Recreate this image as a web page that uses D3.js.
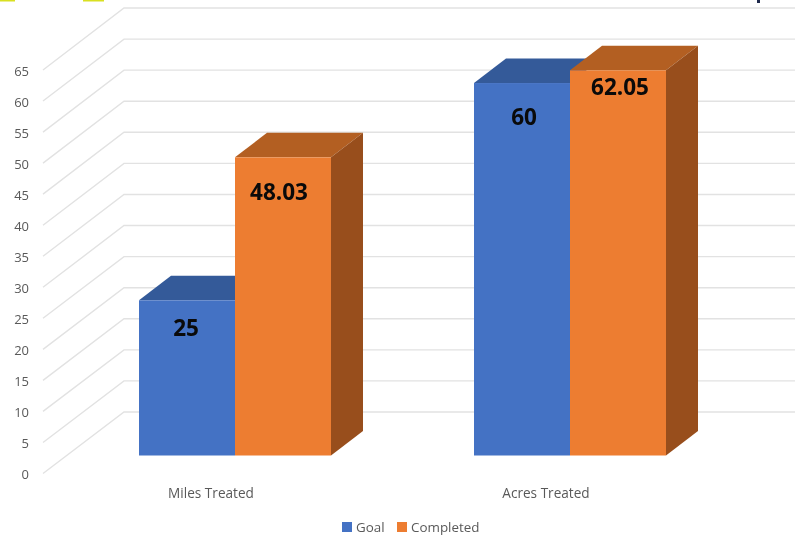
<!DOCTYPE html>
<html>
<head>
<meta charset="utf-8">
<style>
  html, body { margin: 0; padding: 0; background: #fff; }
  /* the source is a soft screenshot */
  svg { display: block; filter: blur(0.4px); }
  text { font-family: "Open Sans", sans-serif; }
</style>
<script src="https://cdn.jsdelivr.net/npm/d3@7"></script>
</head>
<body>
<svg id="chart" width="801" height="536"></svg>
<script>
var categories = ['Miles Treated', 'Acres Treated']
var seriesNames = ['Goal', 'Completed']
var goalValues = [25, 60]
var completedValues = [48.03, 62.05]
var tickValues = d3.range(0, 70, 5)

var seriesColors = {
  Goal: { front: '#4472c4', top: '#345a99' },
  Completed: { front: '#ed7d31', top: '#b35f22', side: '#984e1c' }
}

// depth of the 3D box, and of the bars inside it
var wallLeft = 43
var wallDx = 81
var wallRight = 795
var barDx = 32
var barDy = 24.5

var svg = d3.select('#chart')

var yFront = d3.scaleLinear().domain([0, 65]).range([473.5, 70])
var yBack = d3.scaleLinear().domain([0, 65]).range([412, 8])
var yBar = d3.scaleLinear().domain([0, 65]).range([455.5, 52])

var x0 = d3.scaleBand().domain(categories).range([139, 666]).paddingInner(143 / 335)
var x1 = d3.scaleBand().domain(seriesNames).range([0, x0.bandwidth()])

// clipped bits of the slide this chart was cut out of
svg.append('rect').attr('x', 0).attr('y', 0).attr('width', 15).attr('height', 1.5).attr('fill', '#d9e021')
svg.append('rect').attr('x', 83).attr('y', 0).attr('width', 21).attr('height', 1.5).attr('fill', '#d9e021')
svg.append('rect').attr('x', 757).attr('y', 0).attr('width', 3).attr('height', 3).attr('fill', '#1f2a4d')

// grid on the wall and side wall
svg.append('g').selectAll('path')
  .data(tickValues)
  .join('path')
  .attr('fill', 'none')
  .attr('stroke', '#e2e2e2')
  .attr('stroke-width', 1.4)
  .attr('d', function (d) {
    return 'M' + wallLeft + ',' + yFront(d) + 'L' + (wallLeft + wallDx) + ',' + yBack(d) + 'L' + wallRight + ',' + yBack(d)
  })

// y axis labels
var yAxis = d3.axisLeft(yFront).tickValues(tickValues).tickSize(0).tickPadding(0)
var yAxisG = svg.append('g').attr('transform', 'translate(29,1)').call(yAxis)
yAxisG.select('.domain').remove()
yAxisG.selectAll('text')
  .attr('fill', '#595959')
  .style('font-size', '13px')
  .style('font-family', '"Open Sans", sans-serif')

// bars
var barData = []
categories.forEach(function (cat, i) {
  barData.push({ category: cat, series: 'Goal', value: goalValues[i] })
  barData.push({ category: cat, series: 'Completed', value: completedValues[i] })
})

var bars = svg.append('g').selectAll('g')
  .data(barData)
  .join('g')

bars.each(function (d) {
  var g = d3.select(this)
  var colors = seriesColors[d.series]
  var left = x0(d.category) + x1(d.series)
  var right = left + x1.bandwidth()
  var top = yBar(d.value)
  var bottom = yBar(0)

  g.append('path')
    .attr('fill', colors.top)
    .attr('d', 'M' + left + ',' + top + 'L' + (left + barDx) + ',' + (top - barDy) +
      'L' + (right + barDx) + ',' + (top - barDy) + 'L' + right + ',' + top + 'Z')
  if (colors.side) {
    g.append('path')
      .attr('fill', colors.side)
      .attr('d', 'M' + right + ',' + top + 'L' + (right + barDx) + ',' + (top - barDy) +
        'L' + (right + barDx) + ',' + (bottom - barDy) + 'L' + right + ',' + bottom + 'Z')
  }
  g.append('rect')
    .attr('x', left)
    .attr('y', top)
    .attr('width', right - left)
    .attr('height', bottom - top)
    .attr('fill', colors.front)
})

// data labels, each one was dragged by hand in the original
var labelDrop = { 25: 28, 48.03: 35, 60: 34, 62.05: 17 }
var labelShift = { 25: -1, 48.03: -4, 60: 2, 62.05: 2 }
svg.append('g').selectAll('text')
  .data(barData)
  .join('text')
  .attr('x', function (d) { return x0(d.category) + x1(d.series) + x1.bandwidth() / 2 + labelShift[d.value] })
  .attr('y', function (d) { return yBar(d.value) + labelDrop[d.value] + 8 })
  .attr('text-anchor', 'middle')
  .attr('fill', '#0a0a0a')
  .style('font-size', '22.5px')
  .style('font-weight', 700)
  .text(function (d) { return d.value })

// category labels
svg.append('g').selectAll('text')
  .data(categories)
  .join('text')
  .attr('x', function (d) { return x0(d) + x0.bandwidth() / 2 - 24 })
  .attr('y', 498)
  .attr('text-anchor', 'middle')
  .attr('fill', '#595959')
  .style('font-size', '13.6px')
  .text(function (d) { return d })

// legend
var legendX = d3.scaleOrdinal().domain(seriesNames).range([342, 397])
var legend = svg.append('g').selectAll('g')
  .data(seriesNames)
  .join('g')
  .attr('transform', function (d) { return 'translate(' + legendX(d) + ',522)' })
legend.append('rect')
  .attr('width', 10)
  .attr('height', 10)
  .attr('fill', function (d) { return seriesColors[d].front })
legend.append('text')
  .attr('x', 14)
  .attr('y', 9.5)
  .attr('fill', '#595959')
  .style('font-size', '13.4px')
  .text(function (d) { return d })
</script>
</body>
</html>
